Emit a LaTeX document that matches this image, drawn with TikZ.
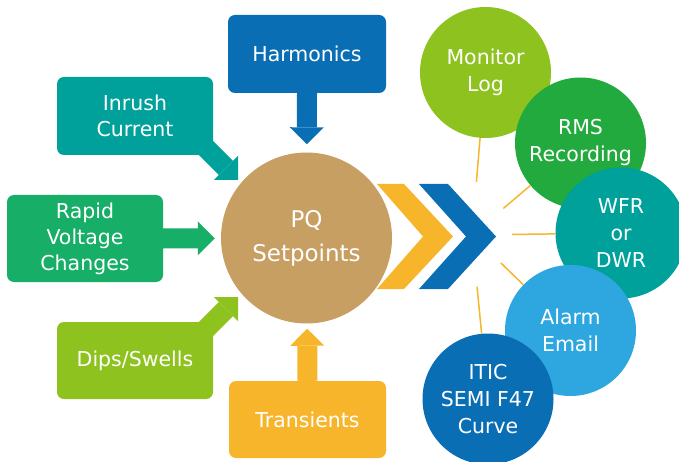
\documentclass[tikz,border=0pt]{standalone}
\usepackage{fontspec}
\setmainfont{DejaVu Sans}
\usetikzlibrary{arrows.meta,calc}

\definecolor{pqblue}{HTML}{0A6EB4}
\definecolor{pqteal}{HTML}{00A19A}
\definecolor{pqgreen}{HTML}{17AF67}
\definecolor{pqlime}{HTML}{8DC21F}
\definecolor{pqyellow}{HTML}{F7B52C}
\definecolor{pqtan}{HTML}{C89F63}
\definecolor{pqrms}{HTML}{22AA3F}
\definecolor{pqsky}{HTML}{2EA7E0}

\begin{document}
\begin{tikzpicture}[x=1pt, y=-1pt,
                    box/.style={rectangle, rounded corners=7pt, align=center, text=white,
                                font=\fontsize{20.5}{26}\selectfont, inner sep=0pt},
                    ball/.style={circle, align=center, text=white, inner sep=0pt,
                                 minimum size=131pt, font=\fontsize{20.5}{27}\selectfont},
                    fat/.style={line width=20pt, -{Triangle[width=34pt, length=17pt, line width=0pt]}},
                    spoke/.style={pqyellow, line width=1.5pt}]

\useasboundingbox (0,0) rectangle (679,462);
\clip (0,0) rectangle (679,462);

\node [box, fill=pqblue, minimum width=158pt, minimum height=78pt] (harm) at (307,54) {Harmonics};
\node [box, fill=pqteal, minimum width=156pt, minimum height=78pt] (inrush) at (135,116) {Inrush\\Current};
\node [box, fill=pqgreen, minimum width=156pt, minimum height=87pt] (rapid) at (85,238.5) {Rapid\\Voltage\\Changes};
\node [box, fill=pqlime, minimum width=156pt, minimum height=77pt] (dips) at (135,360.5) {Dips/Swells};
\node [box, fill=pqyellow, minimum width=157pt, minimum height=77pt] (trans) at (307.5,419.5) {Transients};

\node [circle, fill=pqtan, minimum size=171pt, inner sep=0pt, align=center, text=white,
       font=\fontsize{23}{34}\selectfont] (pq) at (306.5,238) {PQ\\Setpoints};

\coordinate (inrushtip) at (238,180);
\coordinate (dipstip) at (238,297);

\draw [fat, pqblue] (harm.south) -- (pq) [shorten >=8pt];
\draw [fat, pqyellow] (trans.north) -- (pq) [shorten >=5pt];
\draw [fat, pqgreen] (rapid.east) -- (pq) [shorten >=6pt];
\draw [fat, pqteal] ($(inrush.south east)+(-20,-20)$) -- (inrushtip);
\draw [fat, pqlime] ($(dips.north east)+(-20,20)$) -- (dipstip);

\fill [pqyellow] (377,184) -- (404,184) -- (453,236.5) -- (404,289) -- (377,289) -- (423,236.5) -- cycle;
\fill [pqblue] (419,184) -- (448,184) -- (496,236.5) -- (448,289) -- (419,289) -- (466,236.5) -- cycle;

\coordinate (hub) at (472,235);

\node [ball, fill=pqlime] (mon) at (485.5,72.5) {Monitor\\Log};
\node [ball, fill=pqrms] (rms) at (580.5,143) {RMS\\Recording};
\node [ball, fill=pqteal] (wfr) at (621,233) {WFR\\or\\DWR};
\node [ball, fill=pqsky] (alarm) at (570.5,330.5) {Alarm\\Email};
\node [ball, fill=pqblue] (itic) at (488,399) {ITIC\\SEMI F47\\Curve};

\foreach \b/\d in {mon/53, rms/41, wfr/40, alarm/40, itic/52}
  \draw [spoke] ($(hub)!\d pt!(\b)$) -- (\b);
\end{tikzpicture}
\end{document}
